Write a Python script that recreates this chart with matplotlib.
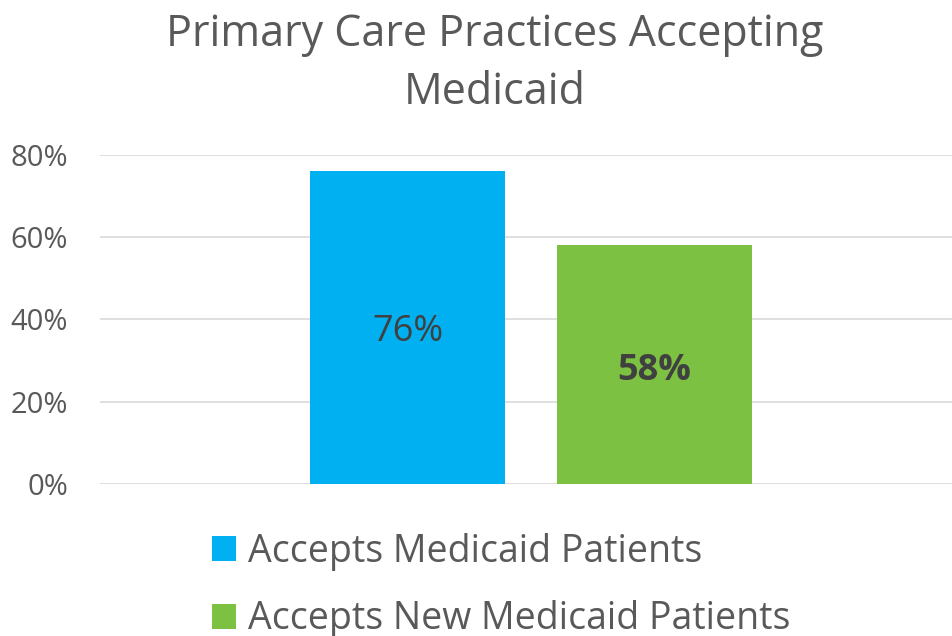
import matplotlib.pyplot as plt

series = ["Accepts Medicaid Patients", "Accepts New Medicaid Patients"]
values = [76, 58]
bar_labels = ["76%", "58%"]
colors = ["#00B0F0", "#7DC142"]
yticks = [0, 20, 40, 60, 80]

plt.rcParams["font.family"] = ["Open Sans", "DejaVu Sans"]

fig = plt.figure(figsize=(9.53, 6.36), dpi=100)
ax = fig.add_axes([0.1049, 0.239, 0.895, 0.5174])

bars = []
for i, (name, v, c) in enumerate(zip(series, values, colors)):
    b = ax.bar(i, v, width=0.79, color=c, label=name, zorder=3)
    bars.append(b)

ax.text(0, 37, bar_labels[0], ha="center", va="center", fontsize=26, color="#404040")
ax.text(1, 27.5, bar_labels[1], ha="center", va="center", fontsize=26,
        color="#404040", fontweight="bold")

ax.set_xlim(-1.245, 2.208)
ax.set_ylim(0, 80)
ax.set_yticks(yticks)
ax.set_yticklabels([f"{t}%" for t in yticks], fontsize=21, color="#595959")
ax.set_xticks([])
ax.tick_params(axis="y", length=0, pad=23)
ax.grid(axis="y", color="#D9D9D9", linewidth=1.2, zorder=0)
for s in ax.spines.values():
    s.set_visible(False)

fig.text(0.519, 0.98, "Primary Care Practices Accepting\nMedicaid", ha="center", va="top",
         fontsize=31, color="#595959", linespacing=1.4)

fig.legend(handles=[b[0] for b in bars], labels=series, loc="upper left",
           bbox_to_anchor=(0.187, 0.215), frameon=False, fontsize=27,
           labelcolor="#595959", handlelength=0.65, handleheight=0.65,
           handletextpad=0.3, labelspacing=0.78)

fig.savefig("out.png", dpi=100)
